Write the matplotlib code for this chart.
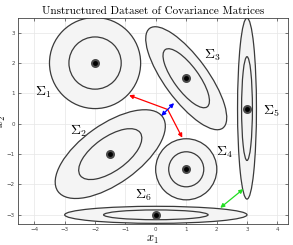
import numpy as np
import matplotlib
matplotlib.use("Agg")
import matplotlib.pyplot as plt
from matplotlib.patches import Ellipse

plt.rcParams['mathtext.fontset'] = 'cm'

# covariance dataset: centers and matrices
names = ['$\\Sigma_1$', '$\\Sigma_2$', '$\\Sigma_3$', '$\\Sigma_4$', '$\\Sigma_5$', '$\\Sigma_6$']
centers = [(-2, 2), (-1.5, -1), (1, 1.5), (1, -1.5), (3, 0.5), (0, -3)]
covs = [
    [[1.0, 0.0], [0.0, 1.0]],
    [[1.46, 0.74], [0.74, 0.95]],
    [[0.79, -0.77], [-0.77, 1.28]],
    [[0.45, 0.0], [0.0, 0.45]],
    [[0.043, 0.0], [0.0, 3.95]],
    [[4.0, 0.0], [0.0, 0.035]],
]
label_pos = [(-3.7, 1.05), (-2.55, -0.25), (1.85, 2.25), (2.25, -0.95), (3.8, 0.4), (-0.4, -2.35)]
levels = [1.5, 0.86]  # mahalanobis radius of outer / inner contour

# arrows between matrices
red_start = (0.39, 0.47)
red_ends = [(-0.88, 0.94), (0.87, -0.46)]
blue_pts = [(0.18, 0.26), (0.60, 0.68)]
green_pts = [(2.12, -2.77), (2.88, -2.15)]

fig = plt.figure(figsize=(2.93, 2.45), dpi=100)
ax = fig.add_axes([0.06, 0.086, 0.923, 0.84])

for (c, S, lab, lp) in zip(centers, covs, names, label_pos):
    S = np.array(S)
    w, v = np.linalg.eigh(S)
    ang = np.degrees(np.arctan2(v[1, 1], v[0, 1]))
    for i, k in enumerate(levels):
        e = Ellipse(c, 2*k*np.sqrt(w[1]), 2*k*np.sqrt(w[0]), angle=ang,
                    facecolor='#f4f4f4' if i == 0 else 'none',
                    edgecolor='#3a3a3a', lw=0.9, zorder=2+i)
        ax.add_patch(e)
    ax.plot(c[0], c[1], 'o', ms=6.5, color='#4a4a4a', mec='none', zorder=5)
    ax.plot(c[0], c[1], 'o', ms=3.5, color='black', mec='none', zorder=6)
    ax.text(lp[0], lp[1], lab, fontsize=10, ha='center', va='center', zorder=7)

for p in red_ends:
    ax.annotate('', xy=p, xytext=red_start,
                arrowprops=dict(arrowstyle='-|>', color='red', lw=0.9,
                                mutation_scale=6, shrinkA=0, shrinkB=0), zorder=8)
ax.annotate('', xy=blue_pts[1], xytext=blue_pts[0],
            arrowprops=dict(arrowstyle='<|-|>', color='blue', lw=0.9,
                            mutation_scale=6, shrinkA=0, shrinkB=0), zorder=9)
ax.annotate('', xy=green_pts[1], xytext=green_pts[0],
            arrowprops=dict(arrowstyle='<|-|>', color='#22dd22', lw=0.9,
                            mutation_scale=6, shrinkA=0, shrinkB=0), zorder=9)

ax.set_xlim(-4.55, 4.35)
ax.set_ylim(-3.3, 3.48)
ax.set_xticks(range(-4, 5))
ax.set_yticks(range(-3, 4))
ax.grid(True, color='#e6e6e6', lw=0.5, zorder=0)
ax.set_axisbelow(True)
ax.tick_params(direction='in', length=2, width=0.5, labelsize=4, colors='#444444',
               top=True, right=True, pad=2)
for s in ax.spines.values():
    s.set_linewidth(0.6)
    s.set_color('#444444')

ax.set_xlabel('$x_1$', fontsize=9, labelpad=1)
ax.set_ylabel('$x_2$', fontsize=9)
ax.yaxis.set_label_coords(-0.035, 0.5)
ax.set_title('Unstructured Dataset of Covariance Matrices', fontsize=8,
             family='cmr10', pad=3)

fig.savefig('out.png', dpi=100)
